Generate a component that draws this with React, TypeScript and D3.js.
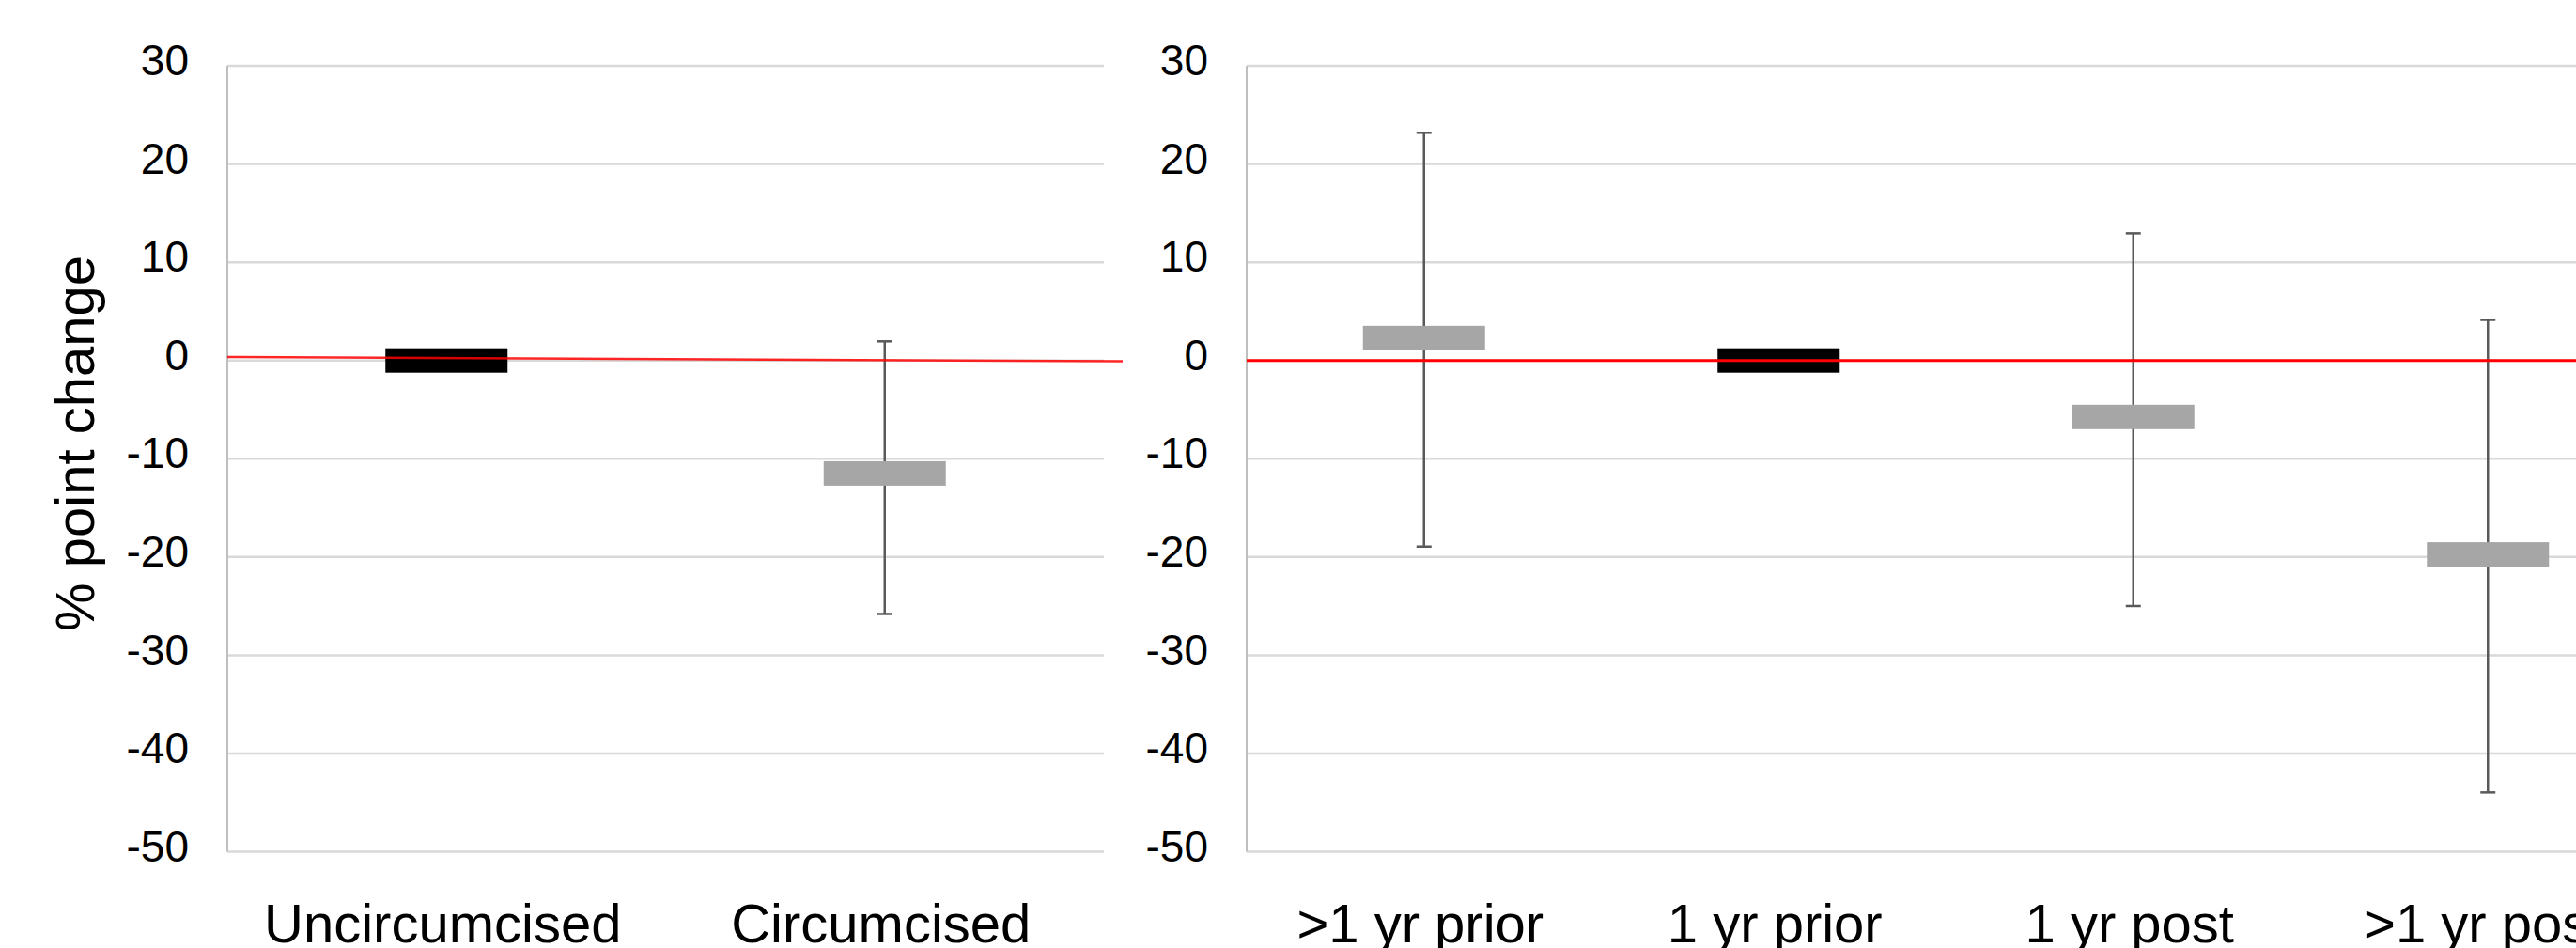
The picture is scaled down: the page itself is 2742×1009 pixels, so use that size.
import React from 'react';
import * as d3 from 'd3';

const width = 2742;
const height = 1009;

// y axis ticks (% point change)
const yTicks = [30, 20, 10, 0, -10, -20, -30, -40, -50];

// left panel
const leftCategories = ['Uncircumcised', 'Circumcised'];
const leftEstimates = [0, -11.5];
const leftLower = [null, -25.8];
const leftUpper = [null, 1.95];
const leftReference = 'Uncircumcised';
const leftZeroLine = [0.35, -0.08]; // slightly tilted zero line as drawn in the original

// right panel
const rightCategories = ['>1 yr prior', '1 yr prior', '1 yr post', '>1 yr post'];
const rightEstimates = [2.28, 0, -5.75, -19.74];
const rightLower = [-18.94, null, -24.99, -43.96];
const rightUpper = [23.18, null, 12.94, 4.13];
const rightReference = '1 yr prior';
const rightZeroLine = [0, 0];

const font = "'Liberation Sans', Arial, sans-serif";
const gridColor = '#d9d9d9';
const axisColor = '#bfbfbf';
const barColor = '#595959';
const grey = '#a6a6a6';

const y = d3.scaleLinear().domain([-50, 30]).range([906.5, 70]);

type PanelProps = {
  categories: string[];
  estimates: number[];
  lower: (number | null)[];
  upper: (number | null)[];
  reference: string;
  zeroLine: number[];
  range: [number, number];
  lineEnd: number;
  zeroWidth: number;
  zeroOpacity: number;
  title?: string;
};

const Panel = ({categories, estimates, lower, upper, reference, zeroLine, range, lineEnd, zeroWidth, zeroOpacity, title}: PanelProps) => {
  const x = d3.scaleBand().domain(categories).range(range).padding(0);
  const cx = (c: string) => (x(c) as number) + x.bandwidth() / 2;
  const boxW = 130;
  const boxH = 26;
  const capW = 16;
  const [x0, x1] = range;

  return (
    <g>
      {/* gridlines */}
      {yTicks.map(t => (
        <line key={'g' + t} x1={x0} x2={x1} y1={y(t)} y2={y(t)} stroke={gridColor} strokeWidth={2.5} />
      ))}
      {/* vertical axis */}
      <line x1={x0} x2={x0} y1={y(30)} y2={y(-50)} stroke={axisColor} strokeWidth={2} />
      {/* tick labels */}
      {yTicks.map(t => (
        <text key={'t' + t} x={x0 - 41} y={y(t) - 2} textAnchor="end" dominantBaseline="middle"
          fontSize={46} fontFamily={font} fill="#000">{t}</text>
      ))}
      {/* error bars */}
      {categories.map((c, i) => {
        const lo = lower[i];
        const hi = upper[i];
        if (lo == null || hi == null) return null;
        return (
          <g key={'e' + c} stroke={barColor} strokeWidth={2.5}>
            <line x1={cx(c)} x2={cx(c)} y1={y(hi)} y2={y(lo)} />
            <line x1={cx(c) - capW / 2} x2={cx(c) + capW / 2} y1={y(hi)} y2={y(hi)} />
            <line x1={cx(c) - capW / 2} x2={cx(c) + capW / 2} y1={y(lo)} y2={y(lo)} />
          </g>
        );
      })}
      {/* point estimates */}
      {categories.map((c, i) => (
        <rect key={'b' + c} x={cx(c) - boxW / 2} y={y(estimates[i]) - boxH / 2} width={boxW} height={boxH}
          fill={c === reference ? '#000' : grey} />
      ))}
      {/* zero reference line */}
      <line x1={x0} x2={lineEnd} y1={y(zeroLine[0])} y2={y(zeroLine[1])} stroke="#ff0000"
        strokeWidth={zeroWidth} strokeOpacity={zeroOpacity} />
      {/* category labels */}
      {categories.map(c => (
        <text key={'x' + c} x={cx(c) - 4} y={1003} textAnchor="middle" fontSize={58} fontFamily={font} fill="#000">{c}</text>
      ))}
      {title && (
        <text transform={`translate(100, ${472}) rotate(-90)`} textAnchor="middle" fontSize={58} fontFamily={font} fill="#000">{title}</text>
      )}
    </g>
  );
};

const App = () => {
  return (
    <div style={{position: 'absolute', left: 0, top: 0, width, height, background: '#fff'}}>
      <svg width={width} height={height} viewBox={`0 0 ${width} ${height}`} style={{display: 'block'}}>
        <rect width={width} height={height} fill="#fff" />
        <Panel categories={leftCategories} estimates={leftEstimates} lower={leftLower} upper={leftUpper}
          reference={leftReference} zeroLine={leftZeroLine} range={[242, 1175]} lineEnd={1195}
          zeroWidth={2.5} zeroOpacity={0.85} title="% point change" />
        <Panel categories={rightCategories} estimates={rightEstimates} lower={rightLower} upper={rightUpper}
          reference={rightReference} zeroLine={rightZeroLine} range={[1327, 2837]} lineEnd={2837}
          zeroWidth={3} zeroOpacity={1} />
      </svg>
    </div>
  );
};

export default App;
